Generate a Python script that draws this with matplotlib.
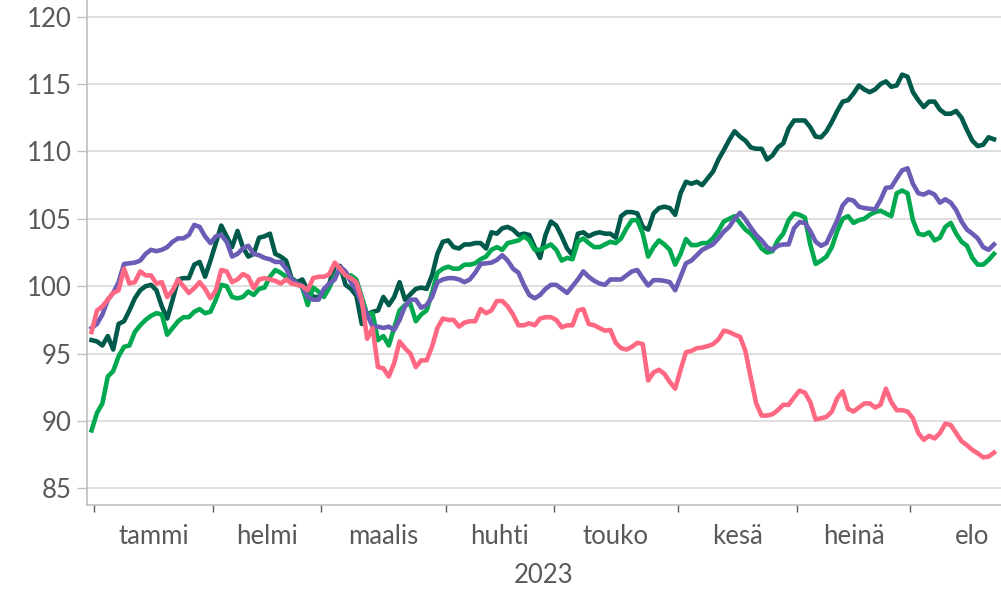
import numpy as np
import pandas as pd
import matplotlib
matplotlib.use("Agg")
import matplotlib.pyplot as plt

# trading days 30.12.2022 - 22.8.2023
dates = pd.bdate_range("2022-12-30", "2023-08-22")

dark_green = [
    96.0, 95.9, 95.6, 96.3, 95.3, 97.2, 97.4, 98.2, 99.1, 99.7,
    100.0, 100.1, 99.7, 98.5, 97.6, 99.0, 100.5, 100.6, 100.6, 101.6,
    101.8, 100.7, 101.9, 103.2, 104.5, 103.7, 102.9, 104.1, 102.9, 102.2,
    102.4, 103.6, 103.7, 103.9, 102.4, 102.2, 101.9, 100.6, 100.3, 100.5,
    99.7, 99.2, 99.2, 99.5, 100.2, 101.5, 101.5, 100.1, 99.8, 99.3,
    97.2, 97.9, 98.1, 98.2, 99.2, 98.6, 99.2, 100.3, 99.0, 99.4,
    99.8, 99.9, 99.8, 100.8, 102.4, 103.3, 103.4, 102.9, 102.8, 103.1,
    103.1, 103.2, 103.2, 102.8, 104.0, 103.9, 104.3, 104.4, 104.2, 103.8,
    103.9, 103.8, 102.9, 102.1, 103.8, 104.8, 104.5, 103.7, 102.8, 102.3,
    103.9, 104.0, 103.7, 103.9, 104.0, 103.9, 103.9, 103.6, 105.2, 105.5,
    105.5, 105.4, 104.4, 104.2, 105.4, 105.8, 105.9, 105.8, 105.3, 106.9,
    107.75, 107.6, 107.75, 107.5, 108.0, 108.5, 109.4, 110.1, 110.85, 111.5,
    111.1, 110.8, 110.3, 110.2, 110.2, 109.4, 109.7, 110.3, 110.6, 111.7,
    112.3, 112.3, 112.3, 111.8, 111.1, 111.05, 111.5, 112.2, 113.0, 113.7,
    113.8, 114.3, 114.9, 114.6, 114.4, 114.6, 115.0, 115.2, 114.8, 114.9,
    115.7, 115.55, 114.4, 113.8, 113.3, 113.7, 113.7, 113.1, 112.8, 112.8,
    113.0, 112.5, 111.6, 110.8, 110.4, 110.5, 111.05, 110.9,
]

green = [
    89.3, 90.6, 91.3, 93.3, 93.7, 94.8, 95.5, 95.6, 96.6, 97.1,
    97.5, 97.8, 98.0, 97.9, 96.4, 96.9, 97.4, 97.7, 97.7, 98.1,
    98.3, 98.0, 98.1, 99.0, 100.1, 100.0, 99.2, 99.1, 99.2, 99.6,
    99.35, 99.8, 99.9, 100.7, 101.2, 101.0, 100.7, 100.5, 100.2, 99.9,
    98.6, 99.9, 99.6, 99.2, 99.9, 100.8, 101.2, 100.8, 100.8, 100.5,
    99.2, 97.9, 98.0, 96.0, 96.3, 95.6, 96.9, 98.2, 98.6, 98.7,
    97.4, 97.9, 98.2, 99.5, 101.0, 101.3, 101.45, 101.3, 101.3, 101.6,
    101.6, 101.7, 102.0, 102.2, 102.7, 102.9, 102.7, 103.2, 103.3, 103.4,
    103.7, 103.4, 102.7, 102.7, 102.9, 103.1, 102.7, 101.9, 102.1, 102.0,
    103.3, 103.55, 103.2, 102.9, 102.9, 103.1, 103.3, 103.2, 103.55, 104.3,
    104.9, 104.9, 103.9, 102.2, 102.9, 103.4, 103.1, 102.7, 101.6, 102.4,
    103.5, 103.05, 103.05, 103.2, 103.2, 103.55, 104.1, 104.8, 105.0, 105.2,
    104.7, 104.2, 103.9, 103.4, 102.8, 102.5, 102.6, 103.4, 103.9, 104.9,
    105.4, 105.3, 105.1, 103.1, 101.65, 101.9, 102.2, 102.9, 104.1, 105.0,
    105.2, 104.7, 104.9, 105.0, 105.3, 105.5, 105.6, 105.4, 105.2, 106.9,
    107.1, 106.9, 104.9, 103.9, 103.8, 104.0, 103.4, 103.6, 104.4, 104.7,
    103.9, 103.3, 103.0, 102.1, 101.6, 101.6, 101.95, 102.4,
]

purple = [
    96.9, 97.2, 97.9, 99.0, 99.5, 100.3, 101.65, 101.7, 101.75, 101.9,
    102.4, 102.7, 102.6, 102.7, 102.9, 103.3, 103.55, 103.55, 103.8, 104.55,
    104.4, 103.7, 103.2, 103.7, 103.8, 103.3, 102.2, 102.4, 102.8, 103.0,
    102.4, 102.3, 102.1, 102.0, 101.8, 101.8, 101.3, 100.5, 100.2, 100.0,
    99.2, 99.0, 99.0, 99.8, 100.2, 100.5, 101.45, 101.1, 100.3, 99.7,
    98.7, 97.9, 97.0, 97.0, 96.9, 97.0, 96.75, 97.5, 98.5, 99.0,
    99.0, 98.4, 98.6, 99.2, 100.3, 100.5, 100.6, 100.6, 100.5, 100.3,
    100.5, 101.0, 101.65, 101.7, 101.75, 101.95, 102.3, 101.9, 101.3, 101.0,
    100.1, 99.35, 99.1, 99.35, 99.8, 100.1, 100.1, 99.8, 99.5, 100.0,
    100.5, 101.1, 100.7, 100.4, 100.2, 100.1, 100.5, 100.5, 100.5, 100.8,
    101.1, 101.2, 100.6, 100.05, 100.45, 100.45, 100.4, 100.3, 99.7, 100.7,
    101.7, 101.9, 102.3, 102.7, 102.9, 103.1, 103.55, 104.05, 104.4, 105.0,
    105.45, 104.95, 104.35, 103.8, 103.4, 102.9, 102.7, 103.0, 103.1, 103.1,
    104.3, 104.75, 104.7, 104.1, 103.3, 103.0, 103.2, 104.05, 104.9, 106.0,
    106.45, 106.35, 105.9, 105.8, 105.75, 105.7, 106.4, 107.3, 107.35, 108.0,
    108.6, 108.75, 107.6, 106.9, 106.8, 107.0, 106.8, 106.2, 106.45, 106.2,
    105.65, 104.8, 104.2, 103.9, 103.55, 102.9, 102.7, 103.1,
]

pink = [
    96.6, 98.2, 98.5, 99.0, 99.5, 99.7, 101.3, 100.2, 100.3, 101.1,
    100.8, 100.8, 100.2, 100.3, 99.2, 99.7, 100.5, 100.0, 99.5, 99.85,
    100.3, 99.8, 99.1, 99.7, 101.2, 101.1, 100.3, 100.5, 100.9, 100.7,
    99.85, 100.5, 100.6, 100.5, 100.4, 100.2, 100.5, 100.2, 100.1, 100.0,
    99.7, 100.6, 100.7, 100.7, 100.9, 101.75, 101.3, 100.8, 100.6, 100.3,
    99.0, 96.1, 96.9, 94.0, 93.9, 93.3, 94.3, 95.9, 95.4, 95.0,
    94.0, 94.5, 94.5, 95.5, 96.9, 97.6, 97.5, 97.5, 97.0, 97.3,
    97.4, 97.4, 98.3, 98.0, 98.2, 98.9, 98.9, 98.5, 97.9, 97.1,
    97.1, 97.25, 97.1, 97.6, 97.7, 97.7, 97.5, 96.95, 97.1, 97.1,
    98.2, 98.3, 97.2, 97.1, 96.9, 96.7, 96.75, 95.8, 95.4, 95.3,
    95.5, 95.8, 95.7, 93.0, 93.6, 93.8, 93.5, 92.9, 92.4, 93.8,
    95.1, 95.2, 95.4, 95.45, 95.55, 95.7, 96.05, 96.7, 96.6, 96.4,
    96.25, 95.2, 93.2, 91.3, 90.4, 90.4, 90.5, 90.8, 91.2, 91.2,
    91.75, 92.25, 92.1, 91.4, 90.1, 90.2, 90.3, 90.7, 91.7, 92.2,
    90.9, 90.7, 91.0, 91.3, 91.3, 91.0, 91.2, 92.4, 91.4, 90.8,
    90.8, 90.7, 90.2, 89.1, 88.6, 88.9, 88.7, 89.1, 89.8, 89.7,
    89.1, 88.5, 88.2, 87.85, 87.6, 87.3, 87.35, 87.65,
]

months = ["tammi", "helmi", "maalis", "huhti", "touko", "kesä", "heinä", "elo"]
year_label = "2023"

series = [
    (dark_green, "#005A4B"),
    (green, "#00A94F"),
    (purple, "#6B5DB6"),
    (pink, "#FF6883"),
]

plt.rcParams["font.family"] = ["Lato", "DejaVu Sans"]

fig = plt.figure(figsize=(10.01, 5.90), dpi=100)
ax = fig.add_axes([0.0869, 0.144, 0.9131, 0.856])

x = np.arange(len(dates))
for vals, col in series:
    ax.plot(x, vals, color=col, lw=3.3, solid_joinstyle="round", zorder=3)

# month boundaries and centres on the trading-day scale
full = pd.bdate_range("2022-12-30", "2023-08-31")
pos = np.arange(len(full))
bounds, centres = [], []
for m in range(1, 9):
    idx = pos[(full.year == 2023) & (full.month == m)]
    bounds.append(idx[0] - 0.5)
    centres.append((idx[0] + idx[-1]) / 2)

ax.set_xlim(-0.85, 168.3)
ax.set_ylim(83.76, 121.24)

ax.set_xticks(bounds, minor=True)
ax.set_xticks(centres)
ax.set_xticklabels(months)
ax.tick_params(axis="x", which="major", length=0, pad=14, labelsize=18.5, labelcolor="#595959")
ax.tick_params(axis="x", which="minor", length=5, width=1, color="#595959")
ax.set_xlabel(year_label, fontsize=18.5, color="#595959", labelpad=10)

ax.set_yticks(np.arange(85, 121, 5))
ax.tick_params(axis="y", length=7, width=1, color="#BFBFBF", pad=4, labelsize=18.5, labelcolor="#595959")
ax.grid(axis="y", color="#D9D9D9", lw=1.2, zorder=0)

for s in ["top", "right"]:
    ax.spines[s].set_visible(False)
for s in ["left", "bottom"]:
    ax.spines[s].set_color("#BFBFBF")
    ax.spines[s].set_linewidth(1.2)

fig.savefig("out.png", dpi=100)
